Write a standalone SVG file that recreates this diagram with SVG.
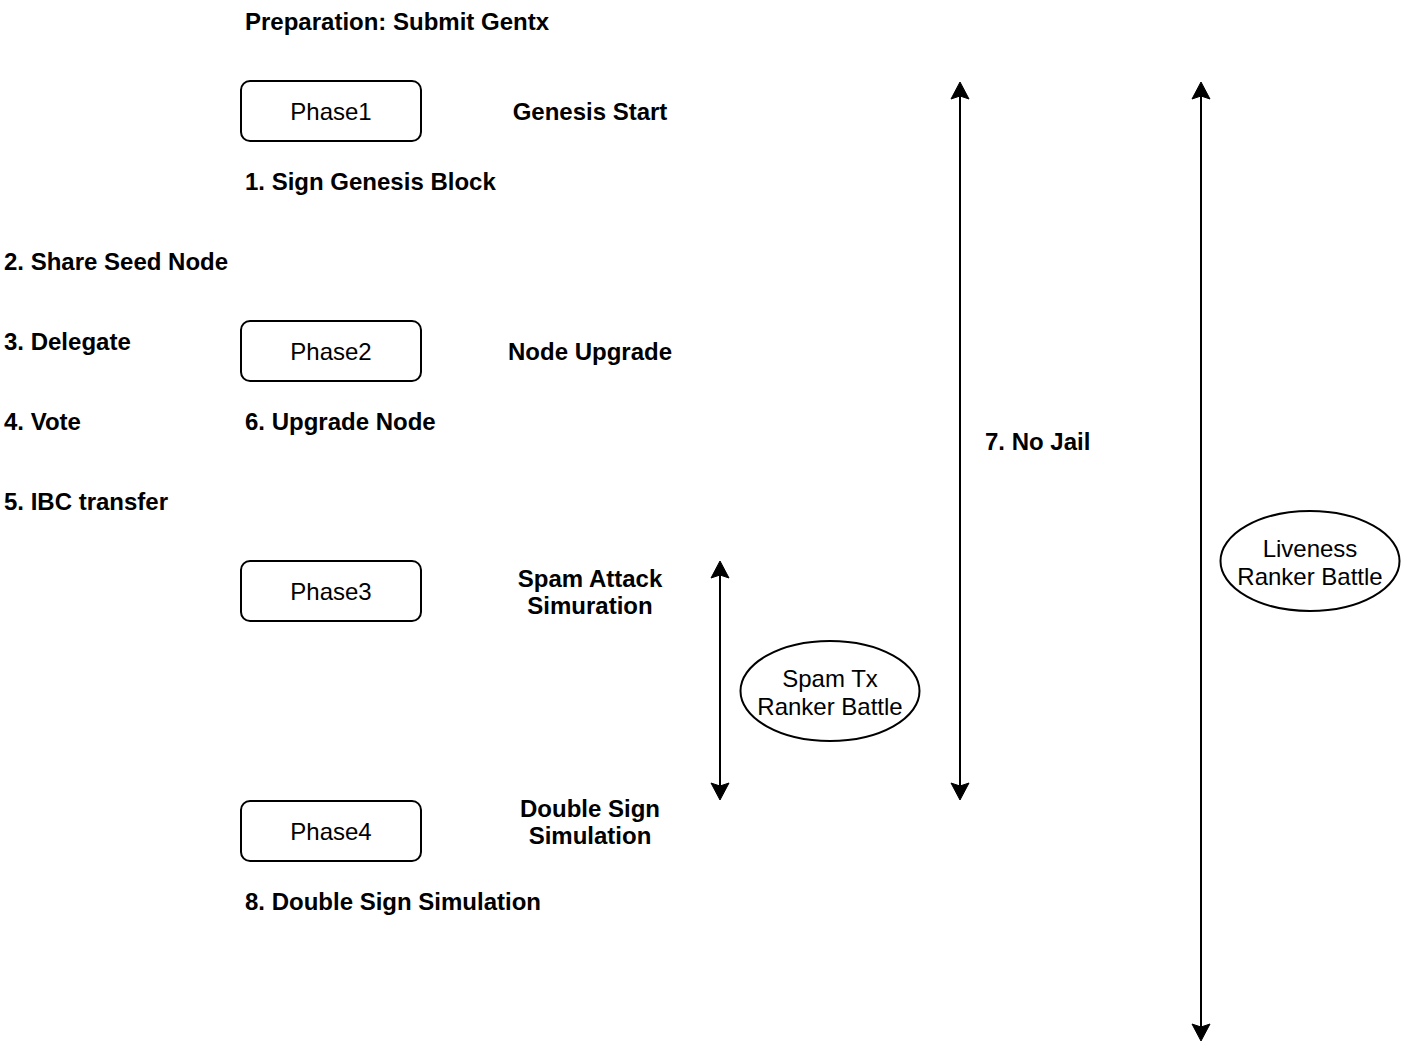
<svg xmlns="http://www.w3.org/2000/svg" width="1404" height="1062" viewBox="0 0 1404 1062">
<style>
text{font-family:"Liberation Sans",Arial,Helvetica,sans-serif;font-size:24px;fill:#000}
.b{font-weight:bold}
.c{text-anchor:middle}
.box{fill:#fff;stroke:#000;stroke-width:2}
.conn{stroke:#000;stroke-width:2;fill:none;marker-start:url(#ah);marker-end:url(#ah)}
</style>
<defs>
<marker id="ah" markerUnits="userSpaceOnUse" markerWidth="20" markerHeight="20" viewBox="-4 -10 20 20" refX="0" refY="0" orient="auto-start-reverse">
<path d="M14,0 L-3,-9 L0,0 L-3,9 Z" fill="#000" stroke="#000" stroke-width="1"/>
</marker>
</defs>
<rect width="1404" height="1062" fill="#fff"/>
<g id="connectors">
<line class="conn" x1="720" y1="575" x2="720" y2="786"/>
<line class="conn" x1="960" y1="96" x2="960" y2="786"/>
<line class="conn" x1="1201" y1="96" x2="1201" y2="1027"/>
</g>
<g id="phase1"><rect class="box" x="241" y="81" width="180" height="60" rx="9"/><text class="c" x="331" y="119.5">Phase1</text></g>
<g id="phase2"><rect class="box" x="241" y="321" width="180" height="60" rx="9"/><text class="c" x="331" y="359.5">Phase2</text></g>
<g id="phase3"><rect class="box" x="241" y="561" width="180" height="60" rx="9"/><text class="c" x="331" y="599.5">Phase3</text></g>
<g id="phase4"><rect class="box" x="241" y="801" width="180" height="60" rx="9"/><text class="c" x="331" y="839.5">Phase4</text></g>
<g id="spamtx"><ellipse class="box" cx="830" cy="691" rx="89.5" ry="50"/><text class="c" x="830" y="686.5">Spam Tx</text><text class="c" x="830" y="714.5">Ranker Battle</text></g>
<g id="liveness"><ellipse class="box" cx="1310" cy="561" rx="89.5" ry="50"/><text class="c" x="1310" y="556.5">Liveness</text><text class="c" x="1310" y="584.5">Ranker Battle</text></g>
<g id="labels">
<text class="b" x="245" y="29.5">Preparation: Submit Gentx</text>
<text class="b c" x="590" y="119.5">Genesis Start</text>
<text class="b" x="245" y="189.5">1. Sign Genesis Block</text>
<text class="b" x="4" y="269.5">2. Share Seed Node</text>
<text class="b" x="4" y="349.5">3. Delegate</text>
<text class="b c" x="590" y="359.5">Node Upgrade</text>
<text class="b" x="4" y="429.5">4. Vote</text>
<text class="b" x="245" y="429.5">6. Upgrade Node</text>
<text class="b" x="985" y="449.5">7. No Jail</text>
<text class="b" x="4" y="509.5">5. IBC transfer</text>
<text class="b c" x="590" y="586.5">Spam Attack</text>
<text class="b c" x="590" y="613.5">Simuration</text>
<text class="b c" x="590" y="816.5">Double Sign</text>
<text class="b c" x="590" y="843.5">Simulation</text>
<text class="b" x="245" y="909.5">8. Double Sign Simulation</text>
</g>
</svg>
